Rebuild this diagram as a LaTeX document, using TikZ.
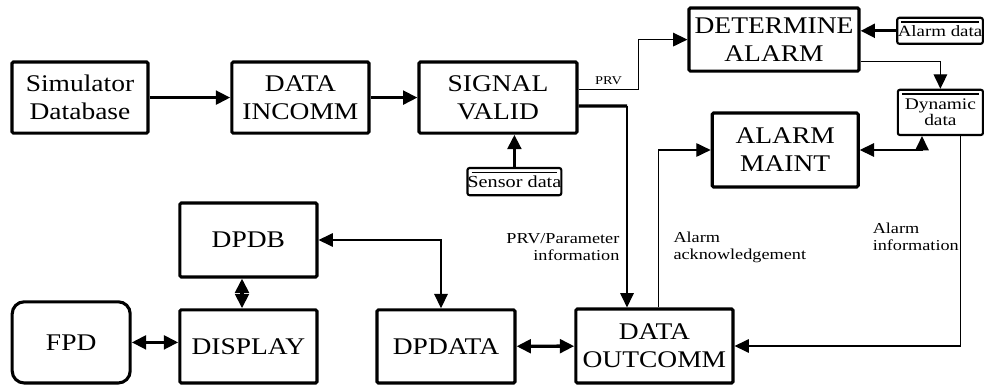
\documentclass[tikz,border=0pt]{standalone}
\usepackage{fontspec}
\setmainfont[FakeStretch=1.15]{Liberation Serif}
\newfontfamily\smallserif[FakeStretch=1.2]{Liberation Serif}
\usetikzlibrary{arrows.meta}

\tikzset{
  >={Triangle[length=0.36cm,width=0.34cm]},
  box/.style={draw, line width=2.2pt, rounded corners=1pt, inner sep=0pt, align=center,
    font=\fontsize{17}{20}\selectfont},
  store/.style={draw, line width=1.5pt, rounded corners=1.5pt, inner sep=0pt, align=center,
    path picture={\draw[line width=0.8pt] ([xshift=3pt,yshift=-3pt]path picture bounding box.north west)
      -- ([xshift=-3pt,yshift=-3pt]path picture bounding box.north east);}},
  flow/.style={line width=0.9pt},
  heavy/.style={line width=2.4pt},
  lbl/.style={font=\smallserif\fontsize{10.8}{12.2}\selectfont, inner sep=0pt}
}

\begin{document}
\begin{tikzpicture}
        \useasboundingbox (0,0) rectangle (24.6,9.7);

        \node[box, minimum width=3.4cm, minimum height=1.78cm] (simdb) at (2.0,7.26) {Simulator\\Database};
        \node[box, minimum width=3.43cm, minimum height=1.78cm] (incomm) at (7.51,7.26) {DATA\\INCOMM};
        \node[box, minimum width=3.95cm, minimum height=1.78cm] (valid) at (12.45,7.26) {SIGNAL\\VALID};
        \node[box, minimum width=4.25cm, minimum height=1.58cm] (determine) at (19.35,8.71) {DETERMINE\\ALARM};
        \node[box, minimum width=3.65cm, minimum height=1.85cm] (maint) at (19.63,5.95) {ALARM\\MAINT};
        \node[box, minimum width=3.43cm, minimum height=1.85cm] (dpdb) at (6.21,3.7) {DPDB};
        \node[box, rounded corners=0.3cm, minimum width=2.95cm, minimum height=2.03cm] (fpd) at (1.78,1.14) {FPD};
        \node[box, minimum width=3.43cm, minimum height=1.83cm] (display) at (6.21,1.04) {DISPLAY};
        \node[box, minimum width=3.45cm, minimum height=1.83cm] (dpdata) at (11.15,1.04) {DPDATA};
        \node[box, minimum width=3.93cm, minimum height=1.85cm] (outcomm) at (16.36,1.05) {DATA\\OUTCOMM};

        \node[store, minimum width=2.18cm, minimum height=0.68cm, font=\smallserif\fontsize{12}{12}\selectfont] (sensor) at (12.86,5.16) {Sensor data};
        \node[store, minimum width=2.14cm, minimum height=0.65cm, font=\smallserif\fontsize{11.2}{12}\selectfont] (alarmdata) at (23.5,8.93) {Alarm data};
        \node[store, minimum width=2.13cm, minimum height=1.13cm, font=\smallserif\fontsize{11.5}{9.6}\selectfont] (dynamic) at (23.51,6.89) {Dynamic\\data};

        \draw[heavy, ->] (simdb) -- (incomm);
        \draw[heavy, ->] (incomm) -- (valid);
        \draw[heavy, ->] (sensor.north) -- (sensor.north |- valid.south);
        \draw[heavy, ->] (alarmdata.west) -- (alarmdata.west -| determine.east);

        \draw[flow, ->] ([yshift=0.21cm]valid.east) -- ++(1.5,0)
            node[lbl, font=\smallserif\fontsize{8.5}{9}\selectfont, midway, above=3pt] {PRV} |- (determine.west);
        \draw[flow, ->] ([yshift=-0.54cm]determine.east) -| (dynamic.north);

        \coordinate (vbend) at (15.675,7.05);
        \draw[heavy] ([yshift=-0.21cm]valid.east) -- (vbend);
        \draw[flow, ->] (vbend) -- node[lbl, pos=0.7, left=5pt, align=right] {PRV/Parameter\\information} (vbend |- outcomm.north);

        \draw[flow, ->] ([xshift=0.11cm]outcomm.north) |- node[lbl, pos=0.19, right=10pt, align=left] {Alarm\\acknowledgement} (maint.west);
        \draw[flow, <->] (maint.east) -| ([xshift=-0.46cm]dynamic.south);
        \draw[flow, ->] ([xshift=0.51cm]dynamic.south) |- node[lbl, pos=0.24, left=1pt, align=left] {Alarm\\information} (outcomm.east);

        \draw[flow, <->] (dpdb.east) -| ([xshift=-0.125cm]dpdata.north);
        \draw[heavy, <->] ([xshift=-0.16cm]dpdb.south) -- ([xshift=-0.16cm]display.north);
        \draw[heavy, <->] (fpd.east) -- (fpd.east -| display.west);
        \draw[heavy, <->] (dpdata) -- (outcomm);
    \end{tikzpicture}
\end{document}
